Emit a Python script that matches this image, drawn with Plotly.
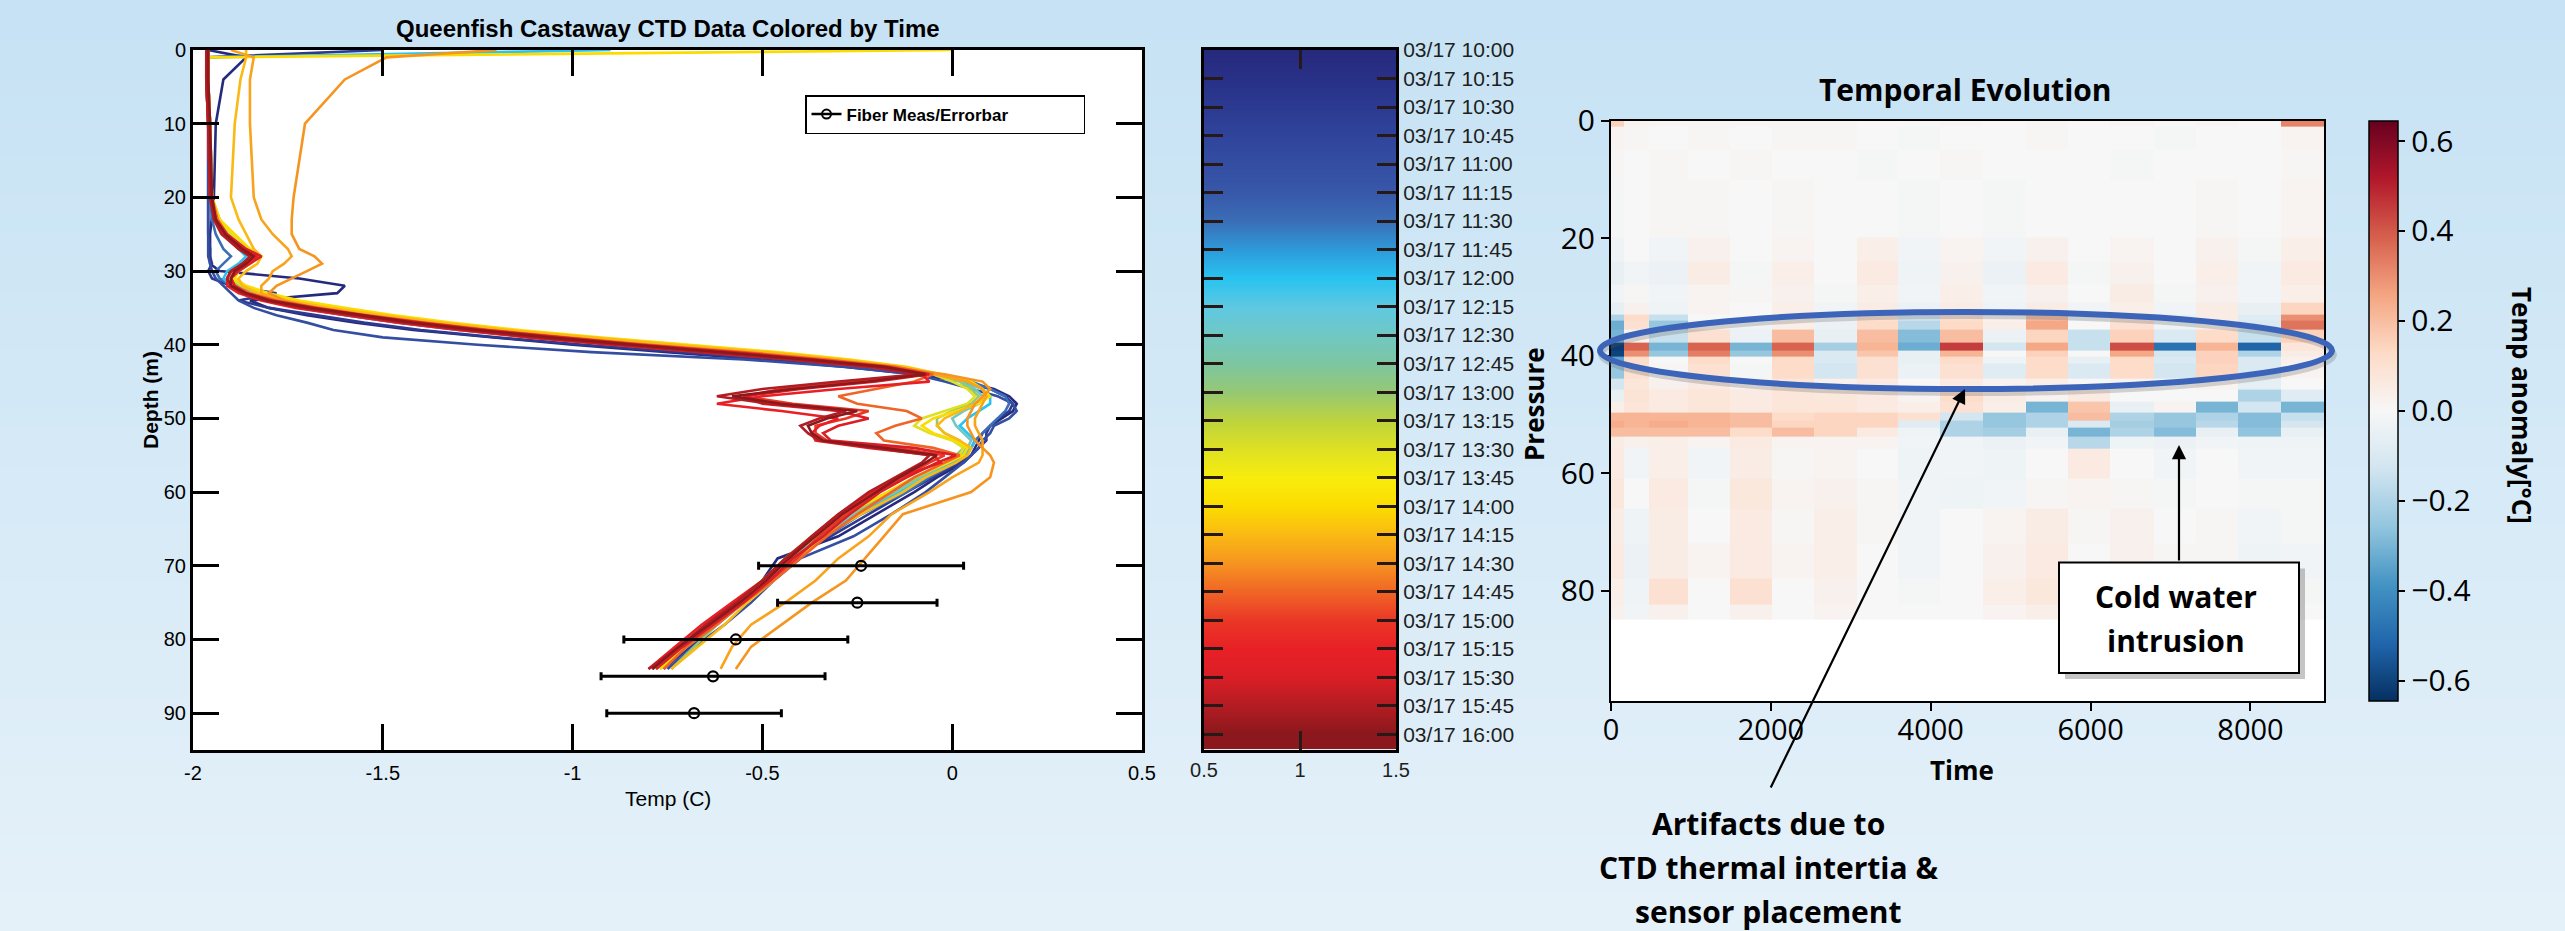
import plotly.graph_objects as go

W, H = 2565, 931


def X(px):
    return px / W


def Y(py):
    return 1 - py / H


# ---------------- data: CTD profiles (left panel) ----------------
DEPTHS = [0, 1, 4, 10, 20, 23, 25, 27, 28, 29,
          30, 31, 32, 33, 34, 35, 36, 37, 38, 39,
          40, 41, 42, 43, 44, 45, 46, 47, 48, 49,
          50, 51, 52, 53, 54, 55, 56,
          58, 60, 63, 66, 69, 72, 75, 78, 81, 84]

PROFILE_1000 = [-1.96, -1.86, -1.92, -1.94, -1.945, -1.95, -1.955, -1.955, -1.955, -1.955,
                -1.93, -1.72, -1.60, -1.62, -1.85, -1.80, -1.70, -1.57, -1.42, -1.22,
                -1.00, -0.75, -0.50, -0.28, -0.10, 0.03, 0.11, 0.15, 0.17, 0.16,
                0.13, 0.10, 0.08, 0.07, 0.06, 0.05, 0.03,
                -0.04, -0.10, -0.20, -0.30, -0.46, -0.50, -0.56, -0.63, -0.70, -0.78]
PROFILE_1030 = [-1.50, -1.965, -1.965, -1.96, -1.96, -1.96, -1.96, -1.955, -1.955, -1.95,
                -1.96, -1.95, -1.90, -1.78, -1.88, -1.80, -1.68, -1.55, -1.40, -1.20,
                -0.97, -0.72, -0.47, -0.25, -0.08, 0.03, 0.10, 0.14, 0.16, 0.15,
                0.12, 0.10, 0.09, 0.09, 0.07, 0.05, 0.02,
                -0.05, -0.12, -0.22, -0.32, -0.44, -0.49, -0.55, -0.62, -0.69, -0.76]
PROFILE_1100 = [-1.965, -1.965, -1.965, -1.96, -1.96, -1.96, -1.96, -1.96, -1.96, -1.955,
                -1.95, -1.94, -1.92, -1.90, -1.88, -1.84, -1.78, -1.70, -1.63, -1.50,
                -1.25, -0.95, -0.55, -0.28, -0.10, -0.02, 0.05, 0.12, 0.16, 0.17,
                0.15, 0.11, 0.10, 0.08, 0.07, 0.05, 0.03,
                -0.02, -0.07, -0.16, -0.26, -0.40, -0.47, -0.53, -0.60, -0.68, -0.75]
PROFILE_1130 = [-1.96, -1.96, -1.96, -1.955, -1.955, -1.95, -1.94, -1.92, -1.90, -1.92,
                -1.94, -1.93, -1.90, -1.86, -1.80, -1.72, -1.60, -1.46, -1.30, -1.10,
                -0.86, -0.60, -0.37, -0.18, -0.04, 0.05, 0.10, 0.14, 0.15, 0.14,
                0.12, 0.10, 0.08, 0.06, 0.05, 0.03, 0.01,
                -0.06, -0.12, -0.24, -0.33, -0.42, -0.48, -0.56, -0.63, -0.71, -0.79]
PROFILE_1200 = [-0.90, -1.96, -1.96, -1.955, -1.95, -1.94, -1.92, -1.88, -1.86, -1.88,
                -1.91, -1.92, -1.90, -1.85, -1.78, -1.68, -1.56, -1.42, -1.25, -1.05,
                -0.82, -0.58, -0.35, -0.17, -0.05, 0.03, 0.08, 0.10, 0.10, 0.07,
                0.04, 0.02, 0.04, 0.06, 0.05, 0.03, 0.00,
                -0.07, -0.14, -0.25, -0.34, -0.41, -0.47, -0.55, -0.62, -0.70, -0.78]
PROFILE_1230 = [-1.96, -1.96, -1.96, -1.955, -1.95, -1.93, -1.90, -1.86, -1.84, -1.87,
                -1.90, -1.90, -1.88, -1.84, -1.77, -1.66, -1.54, -1.40, -1.23, -1.02,
                -0.80, -0.55, -0.33, -0.16, -0.05, 0.02, 0.06, 0.08, 0.07, 0.03,
                0.00, 0.01, 0.03, 0.05, 0.04, 0.02, -0.01,
                -0.08, -0.15, -0.26, -0.35, -0.42, -0.48, -0.55, -0.63, -0.70, -0.77]
PROFILE_1300 = [-1.96, -1.96, -1.96, -1.955, -1.95, -1.93, -1.90, -1.86, -1.83, -1.86,
                -1.90, -1.90, -1.88, -1.83, -1.75, -1.64, -1.51, -1.36, -1.18, -0.97,
                -0.74, -0.50, -0.30, -0.14, -0.04, 0.02, 0.05, 0.07, 0.05, 0.00,
                -0.04, -0.04, -0.02, 0.02, 0.03, 0.01, -0.02,
                -0.09, -0.16, -0.27, -0.36, -0.43, -0.50, -0.56, -0.62, -0.68, -0.74]
PROFILE_1330 = [-1.96, -1.96, -1.96, -1.955, -1.95, -1.93, -1.90, -1.86, -1.83, -1.86,
                -1.89, -1.90, -1.87, -1.82, -1.74, -1.62, -1.49, -1.34, -1.16, -0.95,
                -0.72, -0.48, -0.28, -0.13, -0.05, 0.00, 0.04, 0.06, 0.04, -0.02,
                -0.08, -0.10, -0.06, 0.00, 0.03, 0.02, -0.02,
                -0.10, -0.17, -0.28, -0.37, -0.44, -0.50, -0.57, -0.64, -0.71, -0.78]
PROFILE_1400 = [0.00, -1.96, -1.96, -1.955, -1.95, -1.93, -1.89, -1.85, -1.82, -1.85,
                -1.88, -1.89, -1.86, -1.80, -1.72, -1.60, -1.47, -1.32, -1.14, -0.93,
                -0.70, -0.46, -0.27, -0.12, -0.03, 0.05, 0.08, 0.10, 0.07, 0.01,
                -0.05, -0.08, -0.05, 0.01, 0.04, 0.03, -0.01,
                -0.10, -0.17, -0.28, -0.36, -0.43, -0.49, -0.56, -0.63, -0.70, -0.77]
PROFILE_1415 = [-1.86, -1.86, -1.875, -1.89, -1.90, -1.88, -1.86, -1.84, -1.82, -1.83,
                -1.86, -1.88, -1.87, -1.83, -1.75, -1.64, -1.50, -1.35, -1.17, -0.96,
                -0.73, -0.49, -0.29, -0.13, -0.03, 0.04, 0.08, 0.09, 0.06, 0.02,
                -0.02, -0.04, -0.02, 0.02, 0.05, 0.04, 0.01,
                -0.07, -0.13, -0.24, -0.34, -0.41, -0.47, -0.54, -0.60, -0.67, -0.74]
PROFILE_1424 = [-1.90, -1.84, -1.85, -1.85, -1.84, -1.82, -1.79, -1.75, -1.74, -1.76,
                -1.79, -1.80, -1.82, -1.82, -1.78, -1.70, -1.58, -1.44, -1.27, -1.07,
                -0.84, -0.60, -0.38, -0.19, -0.05, 0.04, 0.08, 0.09, 0.08, 0.07,
                0.06, 0.06, 0.07, 0.08, 0.08, 0.08, 0.07,
                0.00, -0.06, -0.16, -0.22, -0.30, -0.36, -0.44, -0.53, -0.58, -0.61]
PROFILE_1430 = [-1.20, -1.49, -1.60, -1.705, -1.735, -1.74, -1.74, -1.72, -1.68, -1.66,
                -1.70, -1.74, -1.78, -1.80, -1.76, -1.68, -1.55, -1.42, -1.25, -1.05,
                -0.82, -0.58, -0.36, -0.17, -0.02, 0.08, 0.10, 0.08, 0.06, 0.05,
                0.04, 0.04, 0.05, 0.06, 0.08, 0.10, 0.11,
                0.10, 0.05, -0.13, -0.18, -0.23, -0.28, -0.37, -0.45, -0.53, -0.57]
PROFILE_1445 = [-1.96, -1.96, -1.96, -1.955, -1.95, -1.935, -1.91, -1.87, -1.84, -1.86,
                -1.89, -1.90, -1.89, -1.85, -1.78, -1.67, -1.54, -1.39, -1.22, -1.02,
                -0.80, -0.55, -0.33, -0.15, -0.05, -0.10, -0.20, -0.30, -0.25, -0.12,
                -0.08, -0.15, -0.20, -0.18, -0.05, 0.02, -0.02,
                -0.10, -0.16, -0.25, -0.33, -0.40, -0.47, -0.55, -0.62, -0.70, -0.76]
PROFILE_1500 = [-1.96, -1.965, -1.965, -1.96, -1.955, -1.94, -1.92, -1.88, -1.84, -1.87,
                -1.90, -1.91, -1.90, -1.87, -1.80, -1.70, -1.57, -1.43, -1.27, -1.08,
                -0.86, -0.62, -0.40, -0.20, -0.08, -0.25, -0.45, -0.55, -0.42, -0.22,
                -0.28, -0.36, -0.36, -0.33, -0.15, -0.02, -0.06,
                -0.13, -0.20, -0.28, -0.35, -0.41, -0.48, -0.56, -0.64, -0.72, -0.79]
PROFILE_1515 = [-1.965, -1.965, -1.965, -1.96, -1.955, -1.94, -1.92, -1.87, -1.83, -1.86,
                -1.90, -1.91, -1.91, -1.88, -1.82, -1.73, -1.60, -1.46, -1.30, -1.12,
                -0.90, -0.66, -0.43, -0.22, -0.08, -0.06, -0.30, -0.50, -0.62, -0.45,
                -0.30, -0.35, -0.37, -0.36, -0.22, -0.05, -0.03,
                -0.14, -0.21, -0.30, -0.37, -0.43, -0.50, -0.58, -0.66, -0.73, -0.80]
PROFILE_1530 = [-1.96, -1.96, -1.96, -1.958, -1.952, -1.94, -1.91, -1.86, -1.82, -1.85,
                -1.88, -1.90, -1.89, -1.86, -1.79, -1.68, -1.55, -1.40, -1.23, -1.03,
                -0.82, -0.58, -0.36, -0.17, -0.06, -0.20, -0.40, -0.55, -0.50, -0.30,
                -0.22, -0.30, -0.34, -0.32, -0.10, 0.01, -0.04,
                -0.12, -0.19, -0.27, -0.34, -0.42, -0.48, -0.55, -0.63, -0.71, -0.78]
PROFILE_1545 = [-1.965, -1.965, -1.965, -1.96, -1.955, -1.945, -1.925, -1.88, -1.85, -1.87,
                -1.90, -1.91, -1.90, -1.87, -1.81, -1.71, -1.58, -1.44, -1.28, -1.10,
                -0.88, -0.64, -0.42, -0.21, -0.09, -0.30, -0.50, -0.62, -0.48, -0.28,
                -0.35, -0.40, -0.38, -0.35, -0.20, -0.06, -0.08,
                -0.15, -0.22, -0.30, -0.37, -0.44, -0.50, -0.57, -0.65, -0.72, -0.80]
PROFILE_1600 = [-1.96, -1.96, -1.96, -1.955, -1.95, -1.94, -1.915, -1.87, -1.84, -1.86,
                -1.89, -1.90, -1.90, -1.86, -1.80, -1.69, -1.56, -1.42, -1.25, -1.06,
                -0.84, -0.60, -0.38, -0.18, -0.07, -0.22, -0.42, -0.58, -0.45, -0.25,
                -0.33, -0.38, -0.37, -0.34, -0.18, -0.04, -0.07,
                -0.14, -0.20, -0.29, -0.36, -0.43, -0.49, -0.56, -0.64, -0.72, -0.79]

# cast times (decimal hours) paired with profiles, plotted in this order
CAST_TIMES = [10.0, 10.5, 11.0, 11.5, 12.0, 12.5, 13.0, 13.5, 14.0, 14.25,
              14.4, 14.5, 14.75, 15.0, 15.25, 15.5, 15.75, 16.0]
CAST_PROFILES = [PROFILE_1000, PROFILE_1030, PROFILE_1100, PROFILE_1130, PROFILE_1200,
                 PROFILE_1230, PROFILE_1300, PROFILE_1330, PROFILE_1400, PROFILE_1415,
                 PROFILE_1424, PROFILE_1430, PROFILE_1445, PROFILE_1500, PROFILE_1515,
                 PROFILE_1530, PROFILE_1545, PROFILE_1600]

# fiber measurements with error bars
FIBER_DEPTH = [70, 75, 80, 85, 90]
FIBER_TEMP = [-0.24, -0.25, -0.57, -0.63, -0.68]
FIBER_ERR = [0.27, 0.21, 0.295, 0.295, 0.23]

# ---------------- data: time colour bar (middle panel) ----------------
TIME_LABELS = ["03/17 10:00", "03/17 10:15", "03/17 10:30", "03/17 10:45", "03/17 11:00",
               "03/17 11:15", "03/17 11:30", "03/17 11:45", "03/17 12:00", "03/17 12:15",
               "03/17 12:30", "03/17 12:45", "03/17 13:00", "03/17 13:15", "03/17 13:30",
               "03/17 13:45", "03/17 14:00", "03/17 14:15", "03/17 14:30", "03/17 14:45",
               "03/17 15:00", "03/17 15:15", "03/17 15:30", "03/17 15:45", "03/17 16:00"]
TIME_COLORS = [(38, 42, 125), (40, 48, 135), (44, 58, 145), (48, 68, 155), (52, 78, 162),
               (56, 88, 170), (58, 110, 182), (45, 155, 218), (40, 195, 240), (95, 200, 225),
               (112, 200, 195), (125, 198, 160), (150, 200, 115), (190, 212, 60), (222, 225, 35),
               (248, 236, 12), (252, 220, 0), (250, 185, 20), (246, 148, 32), (240, 100, 38),
               (234, 55, 38), (232, 32, 38), (218, 30, 38), (178, 28, 34), (138, 24, 28)]
CB_XTICKS = [0.5, 1, 1.5]

# ---------------- data: temporal evolution heatmap (right panel) ----------------
TIME_EDGES = [0, 162, 471, 967, 1488, 2009, 2538, 3080, 3593, 4114,
              4656, 5190, 5719, 6248, 6790, 7324, 7845, 8378, 8920]
PRESSURE_EDGES = [0, 1, 5, 10, 20, 24, 28, 31, 33, 34, 35.6, 37.8, 39.1, 40.1, 41.3,
                  43.9, 45.8, 47.8, 49.7, 51, 52.2, 53.8, 55.8, 61, 66, 72, 78, 82.4, 85]
ANOMALY = [
    [0.15, 0.02, 0.01, 0.01, 0.01, 0.01, 0.01, 0.0, 0.0, 0.01, 0.0, 0.01, 0.0, 0.01, 0.0, 0.01, 0.0, 0.32],
    [0.02, 0.01, 0.0, 0.01, 0.0, 0.01, 0.01, 0.0, -0.01, 0.0, 0.0, 0.01, 0.0, 0.0, -0.01, 0.0, 0.0, 0.02],
    [0.01, 0.0, 0.01, 0.0, 0.01, 0.0, 0.0, -0.01, 0.0, 0.01, 0.0, 0.0, 0.0, -0.01, 0.0, 0.0, 0.0, 0.01],
    [-0.01, 0.0, 0.01, 0.01, 0.0, 0.01, 0.0, 0.0, -0.01, 0.0, -0.01, 0.0, 0.0, 0.0, 0.0, 0.01, 0.0, 0.02],
    [-0.03, 0.0, -0.02, 0.03, 0.0, 0.02, 0.0, 0.04, -0.02, 0.02, -0.02, 0.03, 0.0, 0.02, 0.0, 0.03, -0.01, 0.04],
    [-0.05, -0.02, -0.04, 0.05, -0.01, 0.04, 0.0, 0.06, -0.03, 0.03, -0.04, 0.06, -0.01, 0.03, 0.0, 0.04, -0.02, 0.06],
    [-0.02, 0.01, -0.02, 0.02, 0.01, 0.03, -0.01, 0.04, -0.02, 0.04, -0.02, 0.03, 0.0, 0.05, -0.01, 0.03, -0.02, 0.04],
    [-0.06, 0.03, -0.03, 0.02, 0.0, 0.04, -0.02, 0.05, -0.04, 0.05, -0.03, 0.05, -0.02, 0.04, -0.02, 0.05, -0.05, 0.14],
    [-0.2, 0.12, -0.15, 0.0, 0.0, 0.05, -0.03, 0.1, -0.12, 0.1, 0.02, 0.2, -0.03, 0.08, -0.05, 0.05, -0.08, 0.3],
    [-0.32, 0.1, -0.25, 0.02, -0.02, 0.04, -0.04, 0.12, -0.18, 0.13, 0.04, 0.25, 0.0, 0.1, -0.03, 0.03, -0.1, 0.35],
    [-0.3, 0.02, -0.15, 0.1, -0.04, 0.2, -0.05, 0.2, -0.28, 0.2, -0.04, 0.14, -0.15, 0.15, -0.1, 0.12, -0.15, 0.15],
    [-0.62, 0.38, -0.3, 0.38, -0.3, 0.38, -0.22, 0.22, -0.32, 0.45, -0.12, 0.25, -0.15, 0.42, -0.48, 0.22, -0.52, 0.08],
    [-0.6, 0.3, -0.25, 0.33, -0.25, 0.3, -0.1, 0.18, -0.05, 0.22, 0.0, 0.15, 0.0, 0.25, -0.12, 0.15, -0.2, 0.05],
    [-0.35, 0.12, 0.0, 0.12, 0.0, 0.12, -0.1, 0.1, -0.05, 0.12, -0.03, 0.12, -0.05, 0.12, -0.1, 0.15, -0.1, 0.03],
    [-0.25, 0.1, 0.01, 0.1, -0.01, 0.12, -0.12, 0.1, -0.04, 0.1, -0.08, 0.12, -0.1, 0.12, -0.12, 0.14, -0.1, 0.02],
    [-0.12, 0.08, 0.03, 0.06, 0.02, 0.08, 0.03, 0.06, 0.0, 0.06, 0.02, 0.04, 0.0, 0.02, 0.0, 0.02, -0.06, 0.0],
    [-0.05, 0.09, 0.06, 0.08, 0.06, 0.08, 0.07, 0.06, 0.02, 0.12, 0.05, 0.02, 0.06, 0.0, 0.0, 0.0, -0.2, -0.08],
    [0.04, 0.08, 0.06, 0.08, 0.06, 0.08, 0.08, 0.06, 0.04, 0.1, 0.04, -0.3, 0.18, -0.05, 0.02, -0.3, -0.12, -0.3],
    [0.22, 0.22, 0.22, 0.22, 0.2, 0.12, 0.14, 0.14, 0.1, -0.12, -0.25, -0.2, 0.2, -0.2, -0.25, -0.2, -0.28, -0.15],
    [0.24, 0.22, 0.24, 0.22, 0.2, 0.14, 0.14, 0.14, -0.08, -0.2, -0.25, -0.2, -0.1, -0.22, -0.25, -0.18, -0.28, -0.12],
    [0.2, 0.2, 0.2, 0.2, 0.12, 0.2, 0.14, 0.06, -0.03, -0.2, -0.22, -0.05, -0.3, -0.2, -0.28, -0.05, -0.26, -0.05],
    [0.05, 0.03, 0.04, 0.02, 0.06, 0.02, 0.02, 0.02, -0.02, -0.02, -0.04, -0.02, -0.18, -0.03, -0.04, -0.02, -0.03, -0.03],
    [0.06, -0.02, 0.04, -0.02, 0.05, 0.01, 0.02, 0.0, -0.03, -0.02, -0.03, 0.0, 0.06, 0.0, -0.02, 0.0, -0.02, -0.02],
    [0.07, 0.0, 0.06, -0.01, 0.07, 0.02, 0.03, 0.01, -0.02, -0.03, -0.02, 0.01, 0.02, 0.01, -0.01, 0.0, -0.01, -0.01],
    [0.05, -0.03, 0.05, 0.0, 0.06, 0.01, 0.04, 0.01, -0.02, 0.0, 0.02, 0.05, 0.01, 0.03, 0.0, 0.01, -0.02, -0.01],
    [0.06, -0.04, 0.05, 0.02, 0.06, 0.02, 0.04, 0.0, -0.02, 0.0, 0.03, 0.06, 0.0, 0.03, 0.01, 0.01, -0.03, -0.02],
    [0.04, -0.03, 0.1, 0.0, 0.1, 0.0, 0.03, 0.0, -0.01, 0.0, 0.04, 0.07, 0.01, 0.02, 0.0, 0.0, -0.02, -0.01],
    [0.03, -0.02, 0.03, 0.0, 0.03, 0.0, 0.02, 0.0, 0.0, 0.0, 0.02, 0.04, 0.0, 0.01, 0.0, 0.0, -0.01, 0.0],
]
ANOM_TICKS = [-0.6, -0.4, -0.2, 0.0, 0.2, 0.4, 0.6]
ANOM_TICKTEXT = ["\u22120.6", "\u22120.4", "\u22120.2", "0.0", "0.2", "0.4", "0.6"]

# ---------------- styling helpers ----------------
RDBU_R = ["#053061", "#2166ac", "#4393c3", "#92c5de", "#d1e5f0", "#f7f7f7",
          "#fddbc7", "#f4a582", "#d6604d", "#b2182b", "#67001f"]
ANOM_SCALE = [[i / (len(RDBU_R) - 1), c] for i, c in enumerate(RDBU_R)]
TIME_SCALE = [[i / (len(TIME_COLORS) - 1), "rgb(%d,%d,%d)" % c] for i, c in enumerate(TIME_COLORS)]


def time_color(t):
    idx = (t - 10.0) * 4.0
    i0 = max(0, min(int(idx), len(TIME_COLORS) - 2))
    f = idx - i0
    a, b = TIME_COLORS[i0], TIME_COLORS[i0 + 1]
    return "rgb(%d,%d,%d)" % tuple(round(p + (q - p) * f) for p, q in zip(a, b))


ARIAL = "Liberation Sans, Arial, sans-serif"
OPEN = "Open Sans, Noto Sans, sans-serif"

fig = go.Figure()

# CTD profiles
for t, prof in zip(CAST_TIMES, CAST_PROFILES):
    fig.add_trace(go.Scatter(x=prof, y=DEPTHS, mode="lines",
                             line=dict(color=time_color(t), width=2.6),
                             showlegend=False, hoverinfo="skip",
                             xaxis="x", yaxis="y"))

# fiber measurements
fig.add_trace(go.Scatter(x=FIBER_TEMP, y=FIBER_DEPTH, mode="markers",
                         marker=dict(symbol="circle-open", size=10, color="black",
                                     line=dict(width=2.2, color="black")),
                         error_x=dict(type="data", array=FIBER_ERR, color="black",
                                      thickness=3, width=4),
                         showlegend=False, xaxis="x", yaxis="y"))
fig.add_trace(go.Scatter(x=[None], y=[None], mode="lines+markers", name="Fiber Meas/Errorbar",
                         line=dict(color="black", width=2.5),
                         marker=dict(symbol="circle-open", size=9, color="black",
                                     line=dict(width=2, color="black")),
                         xaxis="x", yaxis="y"))

# time colour bar (middle)
fig.add_trace(go.Heatmap(z=[[i, i] for i in range(len(TIME_LABELS))],
                         x=[0.5, 1.0, 1.5], y=list(range(len(TIME_LABELS))),
                         colorscale=TIME_SCALE, zmin=0, zmax=len(TIME_LABELS) - 1,
                         zsmooth="best", showscale=False, hoverinfo="skip",
                         xaxis="x3", yaxis="y3"))

# temporal evolution heatmap
fig.add_trace(go.Heatmap(z=ANOMALY, x=TIME_EDGES, y=PRESSURE_EDGES,
                         colorscale=ANOM_SCALE, zmin=-0.645, zmax=0.645,
                         xaxis="x2", yaxis="y2",
                         colorbar=dict(x=X(2369), xanchor="left", xpad=0,
                                       y=Y(410.8), yanchor="middle", ypad=0,
                                       len=580.4 / H, lenmode="fraction",
                                       thickness=29, thicknessmode="pixels",
                                       outlinecolor="black", outlinewidth=1.5,
                                       tickvals=ANOM_TICKS, ticktext=ANOM_TICKTEXT,
                                       ticks="outside", ticklen=7, tickwidth=1.5,
                                       tickcolor="black",
                                       tickfont=dict(family=OPEN, size=30, color="black"))))

# ---------------- background (vertical gradient bands) ----------------
TOP_BG, BOT_BG = (198, 226, 244), (229, 241, 249)
N_BANDS = 48
shapes = []
for k in range(N_BANDS):
    f = k / (N_BANDS - 1)
    col = "rgb(%d,%d,%d)" % tuple(round(a + (b - a) * f) for a, b in zip(TOP_BG, BOT_BG))
    shapes.append(dict(type="rect", xref="paper", yref="paper", x0=0, x1=1,
                       y0=1 - (k + 1) / N_BANDS - 0.002, y1=1 - k / N_BANDS,
                       fillcolor=col, line=dict(width=0), layer="below"))

shapes += [
    dict(type="rect", xref="paper", yref="paper", x0=X(193), x1=X(1142), y0=Y(750), y1=Y(50),
         fillcolor="white", line=dict(width=0), layer="below"),
    dict(type="rect", xref="paper", yref="paper", x0=X(1611), x1=X(2324), y0=Y(701), y1=Y(120.6),
         fillcolor="white", line=dict(width=0), layer="below"),
    # ellipse shadow + ellipse
    dict(type="circle", xref="paper", yref="paper", x0=X(1601), x1=X(2334), y0=Y(393), y1=Y(316),
         line=dict(color="rgba(90,90,90,0.25)", width=6)),
    dict(type="circle", xref="paper", yref="paper", x0=X(1600), x1=X(2332), y0=Y(389), y1=Y(312),
         line=dict(color="rgb(60,100,185)", width=6)),
    # callout box shadow + box
    dict(type="rect", xref="paper", yref="paper", x0=X(2065), x1=X(2305), y0=Y(679), y1=Y(568.5),
         fillcolor="rgba(90,90,90,0.35)", line=dict(width=0)),
    dict(type="rect", xref="paper", yref="paper", x0=X(2059), x1=X(2299), y0=Y(673), y1=Y(562.5),
         fillcolor="white", line=dict(color="black", width=2)),
]

annotations = [
    dict(text="Queenfish Castaway CTD Data Colored by Time", x=X(668), y=Y(29),
         font=dict(family=ARIAL, size=24, color="black", weight="bold")),
    dict(text="Temp (C)", x=X(668), y=Y(798), font=dict(family=ARIAL, size=21, color="black")),
    dict(text="Depth (m)", x=X(150), y=Y(400), textangle=-90,
         font=dict(family=ARIAL, size=21, color="black", weight="bold")),
    dict(text="Temporal Evolution", x=X(1965), y=Y(90),
         font=dict(family=OPEN, size=30, color="black", weight="bold")),
    dict(text="Pressure", x=X(1534), y=Y(404), textangle=-90,
         font=dict(family=OPEN, size=26, color="black", weight="bold")),
    dict(text="Time", x=X(1962), y=Y(770), font=dict(family=OPEN, size=26, color="black", weight="bold")),
    dict(text="Temp anomaly[°C]", x=X(2522), y=Y(405), textangle=90,
         font=dict(family=OPEN, size=26, color="black", weight="bold")),
    dict(text="Artifacts due to", x=X(1768), y=Y(823),
         font=dict(family=OPEN, size=30, color="black", weight="bold")),
    dict(text="CTD thermal intertia &", x=X(1768), y=Y(867),
         font=dict(family=OPEN, size=30, color="black", weight="bold")),
    dict(text="sensor placement", x=X(1768), y=Y(911),
         font=dict(family=OPEN, size=30, color="black", weight="bold")),
    dict(text="Cold water", x=X(2176), y=Y(596),
         font=dict(family=OPEN, size=30, color="black", weight="bold")),
    dict(text="intrusion", x=X(2176), y=Y(640),
         font=dict(family=OPEN, size=30, color="black", weight="bold")),
    # arrows
    dict(text="", x=X(1965), y=Y(389), showarrow=True, ax=-195, ay=400,
         arrowhead=2, arrowsize=1.3, arrowwidth=2.2, arrowcolor="black"),
    dict(text="", x=X(2179), y=Y(445), showarrow=True, ax=0, ay=117,
         arrowhead=2, arrowsize=1.3, arrowwidth=2.2, arrowcolor="black"),
]
for a in annotations:
    a.setdefault("xref", "paper")
    a.setdefault("yref", "paper")
    a.setdefault("showarrow", False)
    a.setdefault("xanchor", "center")
    a.setdefault("yanchor", "middle")

left_axis = dict(showgrid=False, zeroline=False, showline=True, linecolor="black", linewidth=3,
                 mirror="ticks", ticks="inside", ticklen=26, tickwidth=3, tickcolor="black",
                 tickfont=dict(family=ARIAL, size=20, color="black"))

fig.update_layout(
    width=W, height=H, autosize=False,
    margin=dict(l=0, r=0, t=0, b=0, pad=0, autoexpand=False),
    paper_bgcolor="rgb(212,233,246)", plot_bgcolor="white",
    shapes=shapes, annotations=annotations,
    showlegend=True,
    legend=dict(x=X(805), y=Y(95), xanchor="left", yanchor="top", bgcolor="white",
                orientation="h", entrywidth=232, entrywidthmode="pixels",
                bordercolor="black", borderwidth=1.5,
                font=dict(family=ARIAL, size=17, color="black", weight="bold")),
    xaxis=dict(domain=[X(193), X(1142)], range=[-2, 0.5], anchor="y",
               tickvals=[-2, -1.5, -1, -0.5, 0, 0.5],
               ticktext=["-2", "-1.5", "-1", "-0.5", "0", "0.5"], ticklabelstandoff=3, **left_axis),
    yaxis=dict(domain=[Y(750), Y(50)], range=[95, 0], anchor="x",
               tickvals=[0, 10, 20, 30, 40, 50, 60, 70, 80, 90], **left_axis),
    xaxis3=dict(domain=[X(1204), X(1396)], range=[0.5, 1.5], anchor="y3",
                tickvals=CB_XTICKS, ticktext=["0.5", "1", "1.5"],
                showgrid=False, zeroline=False, showline=True, linecolor="black", linewidth=3,
                mirror="ticks", ticks="inside", ticklen=19, tickwidth=3, tickcolor="rgb(40,25,25)",
                tickfont=dict(family=ARIAL, size=20, color="rgb(30,30,30)")),
    yaxis3=dict(domain=[Y(750), Y(50)], range=[24.55, 0], anchor="x3", side="right",
                tickvals=list(range(len(TIME_LABELS))), ticktext=TIME_LABELS,
                showgrid=False, zeroline=False, showline=True, linecolor="black", linewidth=3,
                mirror="ticks", ticks="inside", ticklen=19, tickwidth=3, tickcolor="rgb(40,25,25)",
                tickfont=dict(family=ARIAL, size=21, color="rgb(30,30,30)")),
    xaxis2=dict(domain=[X(1611), X(2324)], range=[0, 8920], anchor="y2",
                tickvals=[0, 2000, 4000, 6000, 8000], ticklabelstandoff=-6,
                showgrid=False, zeroline=False, showline=True, linecolor="black", linewidth=2,
                mirror=True, ticks="outside", ticklen=8, tickwidth=2, tickcolor="black",
                tickfont=dict(family=OPEN, size=29, color="black")),
    yaxis2=dict(domain=[Y(701), Y(120.6)], range=[98.8, 0], anchor="x2",
                tickvals=[0, 20, 40, 60, 80],
                showgrid=False, zeroline=False, showline=True, linecolor="black", linewidth=2,
                mirror=True, ticks="outside", ticklen=8, tickwidth=2, tickcolor="black",
                tickfont=dict(family=OPEN, size=30, color="black")),
)

fig.write_html("out.html", config={"displayModeBar": False},
               post_script="document.body.style.margin='0';document.body.style.overflow='hidden';")
